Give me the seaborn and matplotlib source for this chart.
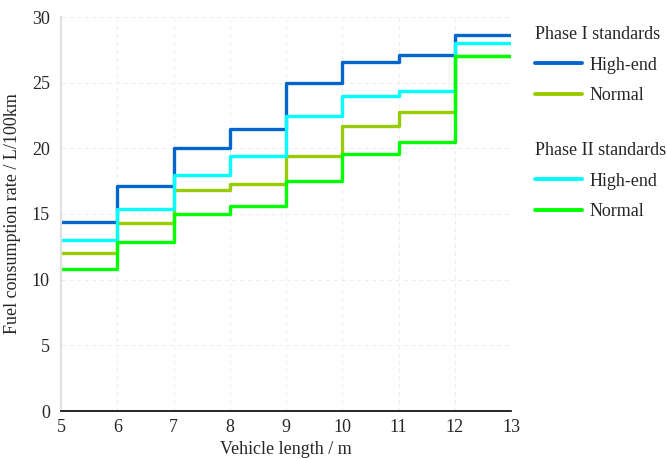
import matplotlib
matplotlib.use("Agg")
import matplotlib.pyplot as plt
from matplotlib.lines import Line2D
import seaborn as sns
import pandas as pd

# Vehicle length band edges (m) and fuel consumption limits per band (L/100km)
lengths = [5, 6, 7, 8, 9, 10, 11, 12, 13]
phase1_high = [14.4, 17.1, 20.0, 21.5, 25.0, 26.6, 27.1, 28.6]
phase1_normal = [12.0, 14.3, 16.8, 17.3, 19.45, 21.7, 22.8, 27.0]
phase2_high = [13.0, 15.4, 18.0, 19.45, 22.5, 24.0, 24.4, 28.0]
phase2_normal = [10.8, 12.9, 15.0, 15.6, 17.5, 19.6, 20.5, 27.0]

x_ticks = [5, 6, 7, 8, 9, 10, 11, 12, 13]
y_ticks = [0, 5, 10, 15, 20, 25, 30]

colors = {
    "p1_high": "#0066CC",
    "p1_normal": "#99CC00",
    "p2_high": "#00FFFF",
    "p2_normal": "#00FF00",
}

sns.set_style("white")
plt.rcParams["font.family"] = ["Liberation Serif", "DejaVu Serif"]
plt.rcParams["font.size"] = 13

fig = plt.figure(figsize=(6.67, 4.59), dpi=100)
ax = fig.add_axes([61 / 667, 1 - 411 / 459, 450 / 667, 394 / 459])

series = [
    ("p1_high", phase1_high),
    ("p1_normal", phase1_normal),
    ("p2_high", phase2_high),
    ("p2_normal", phase2_normal),
]
for key, vals in series:
    df = pd.DataFrame({"length": lengths, "rate": vals + [vals[-1]]})
    sns.lineplot(data=df, x="length", y="rate", ax=ax, color=colors[key],
                 linewidth=2.4, drawstyle="steps-post", estimator=None)

ax.set_xlim(5, 13)
ax.set_ylim(0, 30)
ax.set_xticks(x_ticks)
ax.set_yticks(y_ticks)
ax.grid(True, color="#ececec", linestyle=(0, (4, 4)), linewidth=0.7)

for side in ("top", "right"):
    ax.spines[side].set_visible(False)
ax.spines["left"].set_color("#e0e0e0")
ax.spines["left"].set_linewidth(1.5)
ax.spines["bottom"].set_color("black")
ax.spines["bottom"].set_linewidth(1.2)

ax.tick_params(axis="y", direction="out", length=5, width=1, color="black",
               labelsize=13, pad=3)
ax.tick_params(axis="x", direction="in", length=5, width=1, color="black",
               labelsize=13, pad=6)

ax.set_xlabel("Vehicle length / m", fontsize=13, labelpad=3)
ax.set_ylabel("Fuel consumption rate / L/100km", fontsize=13, labelpad=8)

def make_handles(k1, k2):
    return [Line2D([], [], color=colors[k1], linewidth=2.8),
            Line2D([], [], color=colors[k2], linewidth=2.8)]

leg_kw = dict(loc="upper left", frameon=False, alignment="left", fontsize=13,
              title_fontsize=13, handlelength=2.6, handletextpad=0.4,
              labelspacing=0.75, borderpad=0, borderaxespad=0)
fig.legend(make_handles("p1_high", "p1_normal"), ["High-end", "Normal"],
           title="Phase I standards",
           bbox_to_anchor=(535 / 667, 1 - 26 / 459), **leg_kw)
fig.legend(make_handles("p2_high", "p2_normal"), ["High-end", "Normal"],
           title="Phase II standards",
           bbox_to_anchor=(535 / 667, 1 - 142 / 459), **leg_kw)

fig.savefig("out.png", dpi=100)
